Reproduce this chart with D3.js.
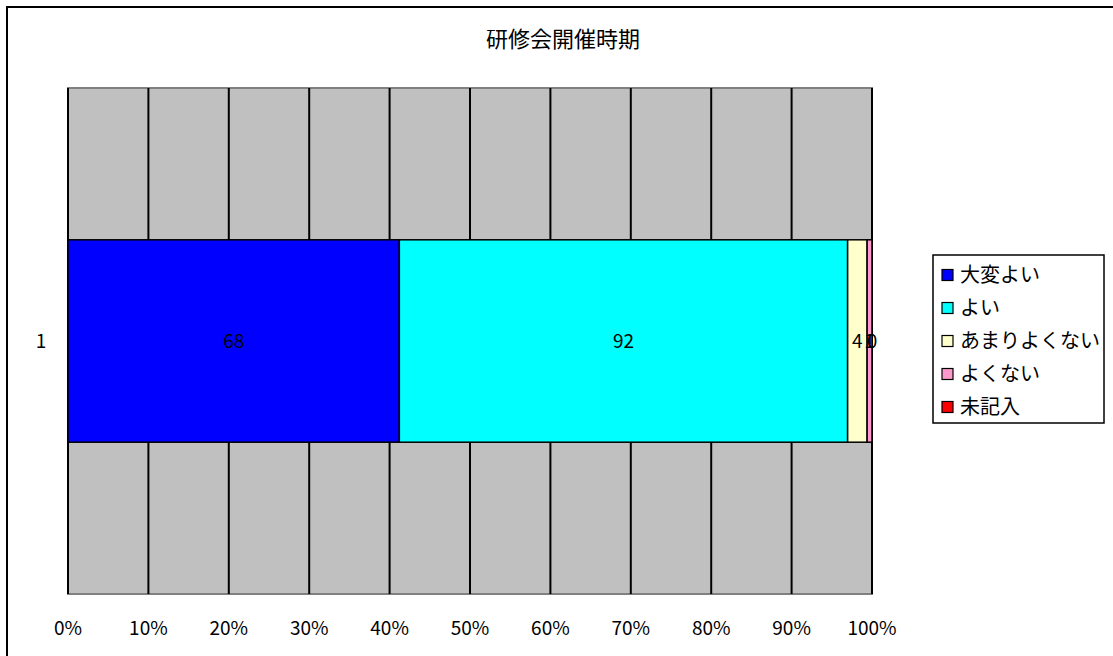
<!DOCTYPE html>
<html>
<head>
<meta charset="utf-8">
<script src="https://cdn.jsdelivr.net/npm/d3@7/dist/d3.min.js"></script>
<style>
  html, body { margin: 0; padding: 0; background: #fff; }
  svg { display: block; font-family: "Noto Sans CJK JP", "Noto Sans", sans-serif; }
</style>
</head>
<body>
<svg id="chart" width="1113" height="656"></svg>
<script>
// 研修会開催時期 — 100% stacked bar
const title = "研修会開催時期";
const categories = ["1"];
const seriesNames = ["大変よい", "よい", "あまりよくない", "よくない", "未記入"];
const seriesValues = [68, 92, 4, 1, 0];
const seriesColors = ["#0000FF", "#00FFFF", "#FFFFCC", "#FF99CC", "#FF0000"];
const tickValues = [0, 0.1, 0.2, 0.3, 0.4, 0.5, 0.6, 0.7, 0.8, 0.9, 1.0];

const svg = d3.select("#chart");
const W = 1113, H = 656;

// outer chart frame
svg.append("rect")
  .attr("x", 7).attr("y", 7)
  .attr("width", W + 20).attr("height", H + 20)
  .attr("fill", "#fff").attr("stroke", "#000").attr("stroke-width", 2);

const plot = { left: 68, right: 872, top: 88, bottom: 594 };

const x = d3.scaleLinear().domain([0, 1]).range([plot.left, plot.right]);
const y = d3.scaleBand().domain(categories).range([plot.top, plot.bottom]).paddingInner(0).paddingOuter(0);

// plot area background
svg.append("rect")
  .attr("x", plot.left).attr("y", plot.top)
  .attr("width", plot.right - plot.left).attr("height", plot.bottom - plot.top)
  .attr("fill", "#C0C0C0").attr("stroke", "#808080").attr("stroke-width", 2);

// vertical gridlines
svg.append("g")
  .selectAll("line")
  .data(tickValues.slice(1))
  .join("line")
  .attr("x1", d => x(d)).attr("x2", d => x(d))
  .attr("y1", plot.top).attr("y2", plot.bottom)
  .attr("stroke", "#000").attr("stroke-width", 2);

// category axis line
svg.append("line")
  .attr("x1", plot.left).attr("x2", plot.left)
  .attr("y1", plot.top).attr("y2", plot.bottom)
  .attr("stroke", "#000").attr("stroke-width", 2);

// stacked segments
const total = d3.sum(seriesValues);
let cum = 0;
const segs = seriesValues.map((v, i) => {
  const s = { name: seriesNames[i], value: v, color: seriesColors[i], x0: cum / total, x1: (cum + v) / total };
  cum += v;
  return s;
});

const band = y.bandwidth();
const barH = band / 2.5;            // gap width 150%
const barY = y(categories[0]) + (band - barH) / 2;

svg.append("g")
  .selectAll("rect")
  .data(segs.filter(d => d.value > 0))
  .join("rect")
  .attr("x", d => x(d.x0)).attr("y", barY)
  .attr("width", d => x(d.x1) - x(d.x0)).attr("height", barH)
  .attr("fill", d => d.color).attr("stroke", "#000").attr("stroke-width", 1.5);

// value labels
svg.append("g")
  .selectAll("text")
  .data(segs)
  .join("text")
  .attr("x", d => (x(d.x0) + x(d.x1)) / 2)
  .attr("y", barY + barH / 2)
  .attr("dy", "0.36em")
  .attr("text-anchor", "middle")
  .attr("font-size", 19)
  .attr("fill", "#000")
  .text(d => d.value);

// category label
svg.append("text")
  .attr("x", 41).attr("y", y(categories[0]) + band / 2)
  .attr("dy", "0.36em").attr("text-anchor", "middle")
  .attr("font-size", 19).text(categories[0]);

// value axis tick labels
svg.append("g")
  .selectAll("text")
  .data(tickValues)
  .join("text")
  .attr("x", d => x(d)).attr("y", 635)
  .attr("text-anchor", "middle")
  .attr("font-size", 19)
  .text(d => d3.format(".0%")(d));

// title
svg.append("text")
  .attr("x", 563).attr("y", 39)
  .attr("dy", "0.36em")
  .attr("text-anchor", "middle")
  .attr("font-size", 22)
  .text(title);

// legend
const lg = svg.append("g");
lg.append("rect")
  .attr("x", 933).attr("y", 255).attr("width", 171).attr("height", 168)
  .attr("fill", "#fff").attr("stroke", "#000").attr("stroke-width", 1.5);
const rows = lg.selectAll("g.item")
  .data(seriesNames)
  .join("g").attr("class", "item")
  .attr("transform", (d, i) => `translate(0, ${275 + i * 33})`);
rows.append("rect")
  .attr("x", 942).attr("y", -5.5).attr("width", 11).attr("height", 11)
  .attr("fill", (d, i) => seriesColors[i]).attr("stroke", "#000").attr("stroke-width", 1.2);
rows.append("text")
  .attr("x", 960).attr("y", 0).attr("dy", "0.36em")
  .attr("font-size", 20)
  .text(d => d);
</script>
</body>
</html>
